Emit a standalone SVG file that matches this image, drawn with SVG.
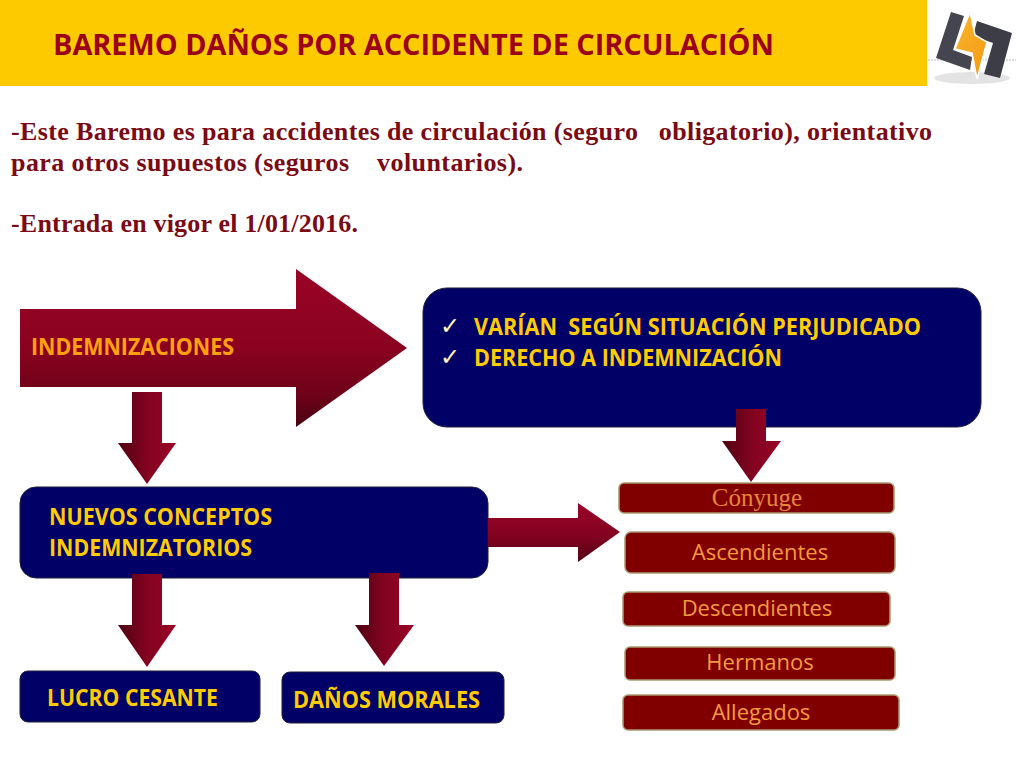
<svg xmlns="http://www.w3.org/2000/svg" width="1024" height="768" viewBox="0 0 1024 768">
<defs>
<linearGradient id="gv" x1="0" y1="0" x2="0" y2="1"><stop offset="0" stop-color="#9a0326"/><stop offset="0.5" stop-color="#8a0220"/><stop offset="0.8" stop-color="#6d0218"/><stop offset="1" stop-color="#4a0212"/></linearGradient>
<linearGradient id="gh" x1="0" y1="0" x2="1" y2="0"><stop offset="0" stop-color="#4f0213"/><stop offset="0.5" stop-color="#820320"/><stop offset="1" stop-color="#9a0326"/></linearGradient>
<linearGradient id="gr" x1="0" y1="0" x2="0" y2="1"><stop offset="0" stop-color="#9a0326"/><stop offset="0.6" stop-color="#800220"/><stop offset="1" stop-color="#4f0213"/></linearGradient>
<linearGradient id="bolt" x1="0" y1="0" x2="1" y2="1"><stop offset="0" stop-color="#f9b52a"/><stop offset="1" stop-color="#f29a14"/></linearGradient>
</defs>
<style>
.s{font-family:"Liberation Serif",serif;font-size:26px;font-weight:bold;fill:#7a0a14;white-space:pre}
.b{font-family:"Open Sans","Noto Sans",sans-serif;font-weight:700;font-size:23px;fill:#ffcb05;white-space:pre}
.o{fill:#ffa010}
.c{font-family:"DejaVu Sans",sans-serif;font-size:24px;fill:#fff4b8}
.t{font-family:"Open Sans","Noto Sans",sans-serif;font-size:22px;fill:#f59a3e;text-anchor:middle}
.nb{fill:#000066;stroke:#20203a;stroke-width:1}
.red{fill:#800000;stroke:#a89a70;stroke-width:1.5}
</style>
<rect width="1024" height="768" fill="#fff"/>
<g id="header"><rect width="927" height="86" fill="#fdca00"/>
<text x="53" y="55" textLength="721" lengthAdjust="spacingAndGlyphs" font-family="'Open Sans','Noto Sans',sans-serif" font-weight="700" font-size="29" fill="#9a0318">BAREMO DAÑOS POR ACCIDENTE DE CIRCULACIÓN</text></g>
<g id="logo">
<ellipse cx="972" cy="78" rx="38" ry="6" fill="#e3e3e3"/>
<line x1="928" y1="60" x2="1016" y2="60" stroke="#bbb" stroke-width="1" stroke-dasharray="2 1"/>
<polygon points="951,12 964,16 953,50 972,57 970,70 936,58" fill="#44454f"/>
<polygon points="977,21 1012,33 1000,78 984,74 993,43 973,36" fill="#3c3d47"/>
<polygon points="970,12 975,35 987,42 977,79 972,53 955,49" fill="url(#bolt)" stroke="#fff" stroke-width="1.5"/>
</g>
<g id="intro">
<text class="s" x="11" y="140" textLength="921">-Este Baremo es para accidentes de circulación (seguro   obligatorio), orientativo</text>
<text class="s" x="11" y="171" textLength="512">para otros supuestos (seguros    voluntarios).</text>
<text class="s" x="11" y="232" textLength="347">-Entrada en vigor el 1/01/2016.</text>
</g>
<g id="indemnizaciones">
<polygon fill="url(#gv)" points="20,309 296,309 296,269 407,348 296,427 296,387 20,387"/>
<text class="b o" x="31" y="355" textLength="203" lengthAdjust="spacingAndGlyphs">INDEMNIZACIONES</text></g>
<g id="varian"><rect class="nb" x="423" y="288" width="558" height="139" rx="24"/>
<text class="c" x="440" y="334">✓</text>
<text class="c" x="440" y="365">✓</text>
<text class="b" x="474" y="335" textLength="447" lengthAdjust="spacingAndGlyphs">VARÍAN  SEGÚN SITUACIÓN PERJUDICADO</text>
<text class="b" x="474" y="366" textLength="308" lengthAdjust="spacingAndGlyphs">DERECHO A INDEMNIZACIÓN</text></g>
<g id="nuevos"><rect class="nb" x="20" y="487" width="468" height="91" rx="16"/>
<text class="b" x="49" y="525" textLength="223" lengthAdjust="spacingAndGlyphs">NUEVOS CONCEPTOS</text>
<text class="b" x="49" y="556" textLength="203" lengthAdjust="spacingAndGlyphs">INDEMNIZATORIOS</text></g>
<g id="lucro"><rect class="nb" x="20" y="671" width="240" height="51" rx="8"/>
<text class="b" x="47" y="706" textLength="171" lengthAdjust="spacingAndGlyphs">LUCRO CESANTE</text></g>
<g id="danos"><rect class="nb" x="282" y="672" width="222" height="51" rx="8"/>
<text class="b" x="293" y="708" textLength="187" lengthAdjust="spacingAndGlyphs">DAÑOS MORALES</text></g>
<g id="conyuge"><rect class="red" x="619" y="483" width="275" height="30" rx="5"/>
<text x="757" y="506" text-anchor="middle" font-family="'Liberation Serif',serif" font-size="25" fill="#e8863a">Cónyuge</text></g>
<g id="ascendientes"><rect class="red" x="625" y="532" width="270" height="41" rx="6"/><text class="t" x="760" y="560">Ascendientes</text></g>
<g id="descendientes"><rect class="red" x="623" y="592" width="267" height="34" rx="5"/><text class="t" x="757" y="616">Descendientes</text></g>
<g id="hermanos"><rect class="red" x="625" y="647" width="270" height="33" rx="5"/><text class="t" x="760" y="670">Hermanos</text></g>
<g id="allegados"><rect class="red" x="623" y="695" width="276" height="35" rx="5"/><text class="t" x="761" y="720">Allegados</text></g>
<g id="connectors">
<polygon fill="url(#gh)" points="132,392 162,392 162,443 176,443 147,484 118,443 132,443"/>
<polygon fill="url(#gh)" points="736,409 766,409 766,441 781,441 751,482 722,441 736,441"/>
<polygon fill="url(#gh)" points="132,574 162,574 162,625 176,625 147,667 118,625 132,625"/>
<polygon fill="url(#gh)" points="369,573 399,573 399,625 414,625 384,666 355,625 369,625"/>
<polygon fill="url(#gr)" points="488,518 578,518 578,503 620,532 578,562 578,547 488,547"/>
</g>
</svg>
